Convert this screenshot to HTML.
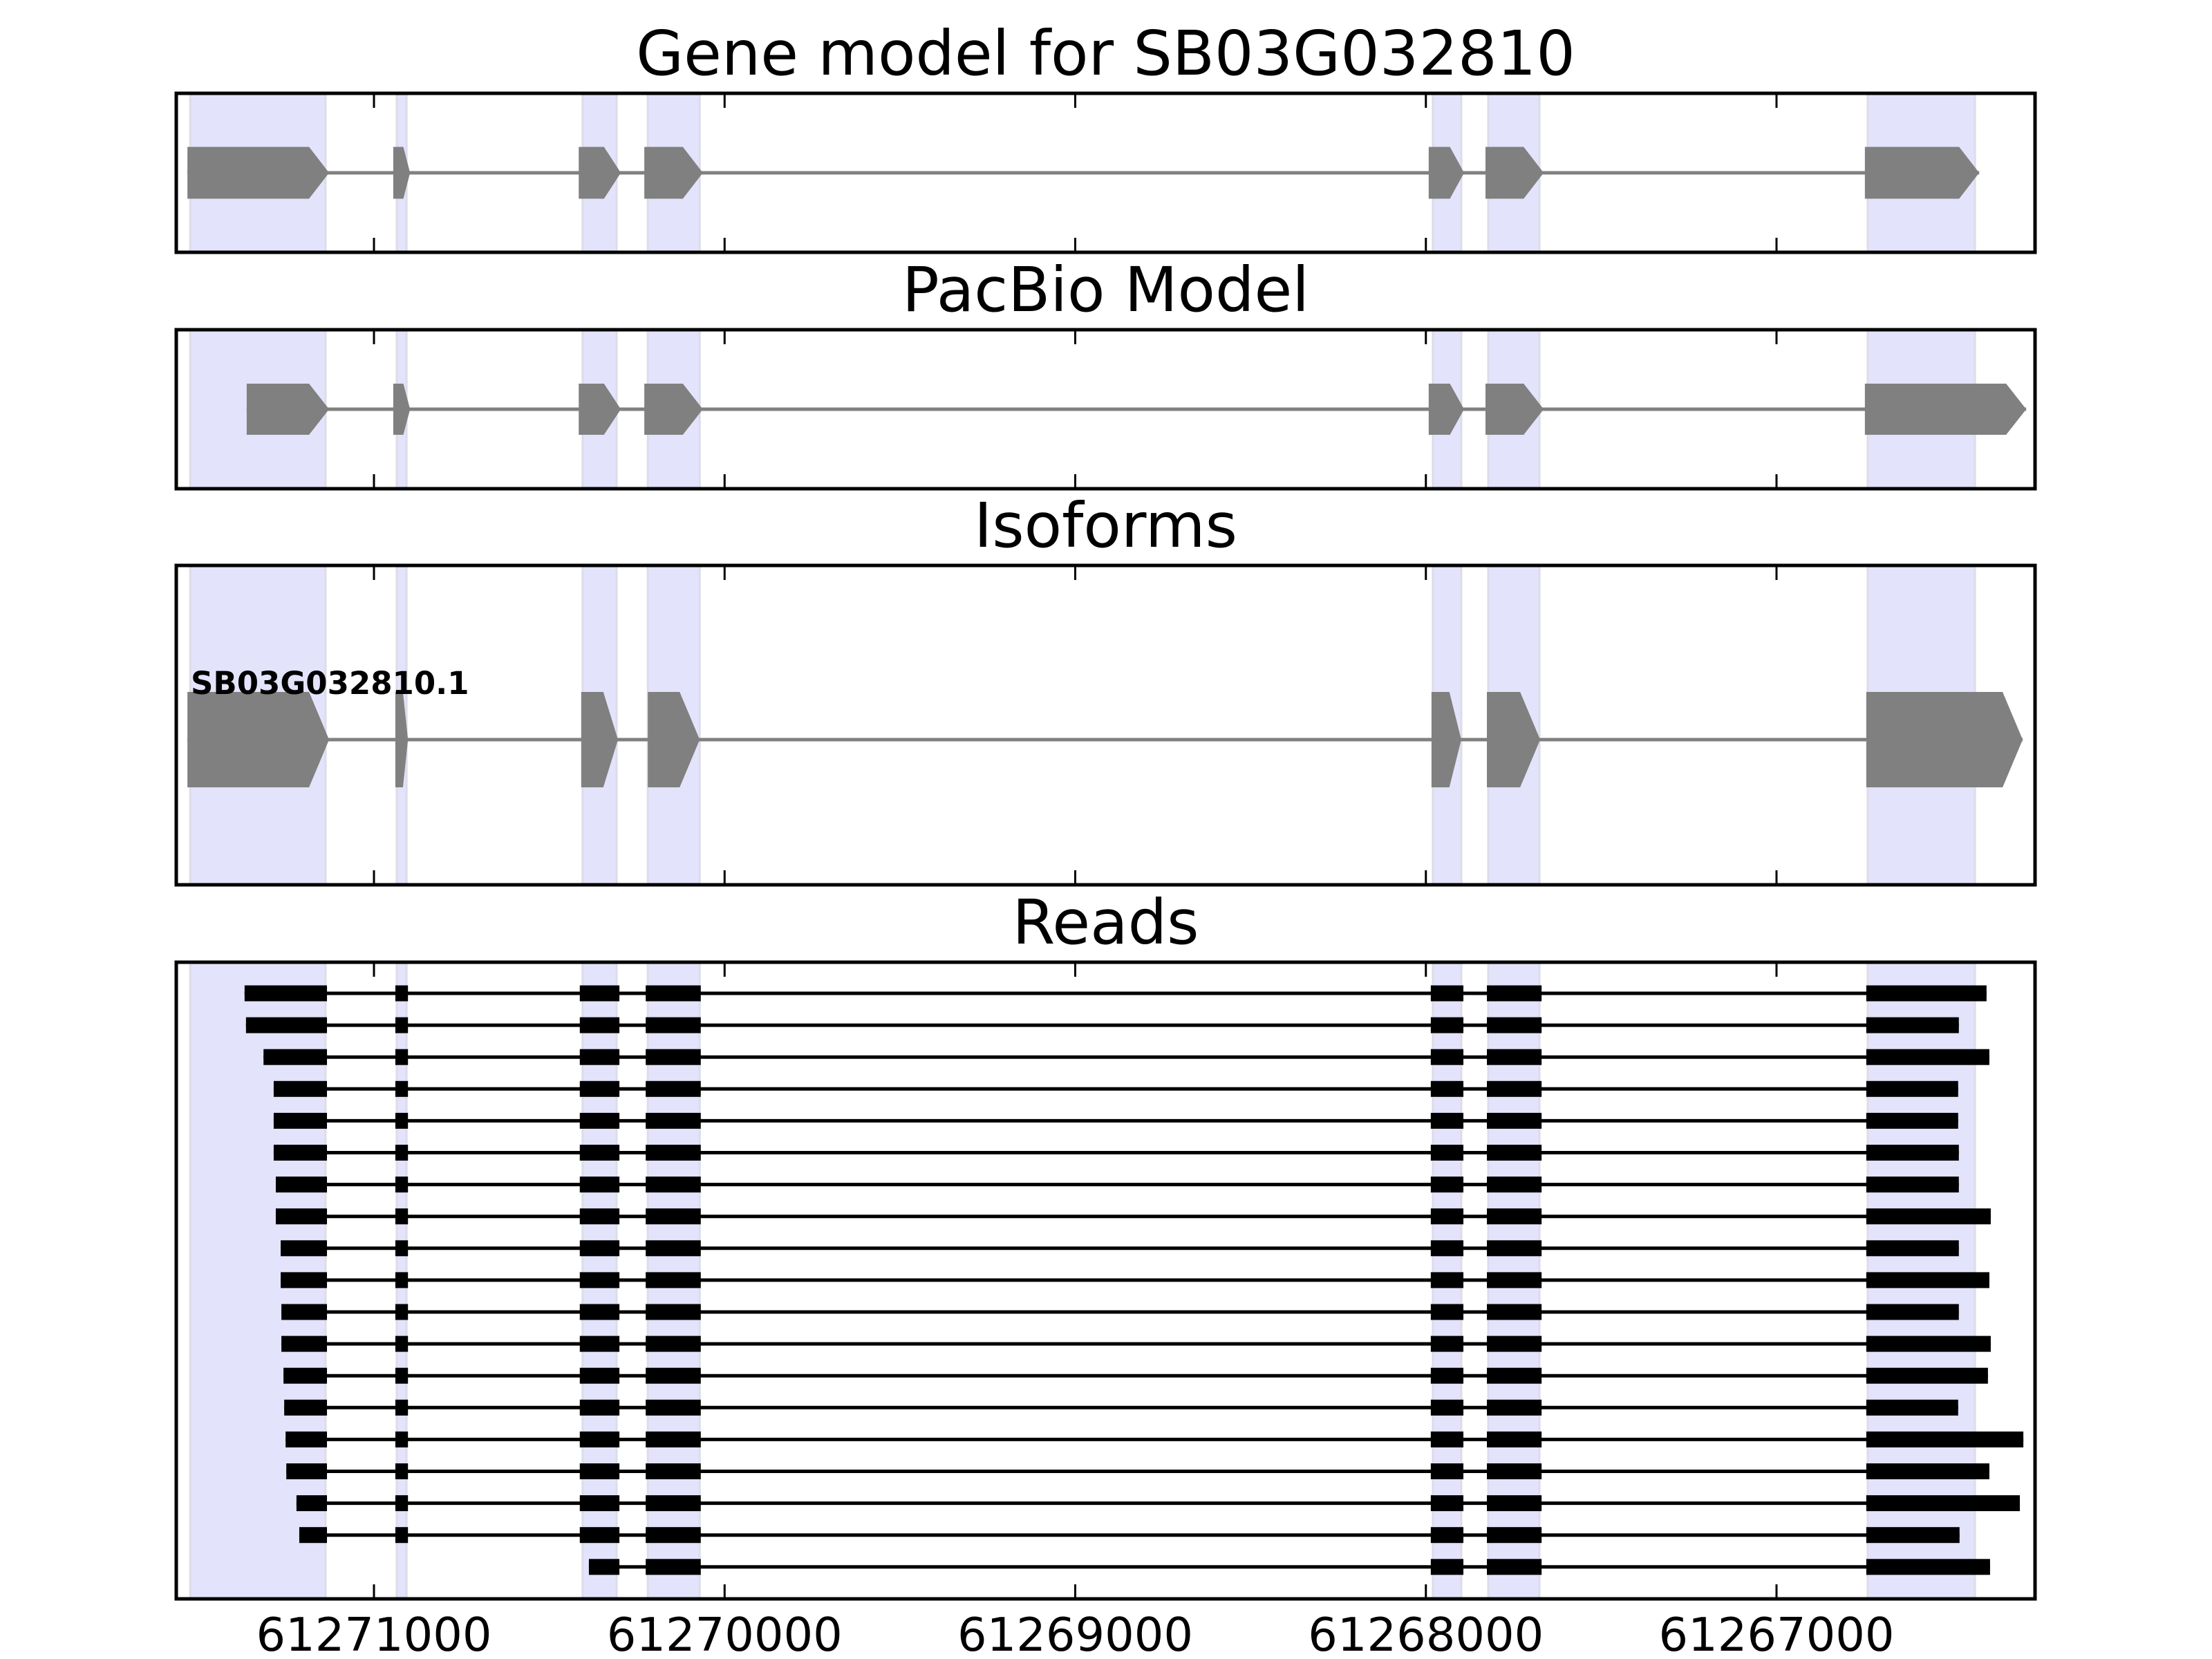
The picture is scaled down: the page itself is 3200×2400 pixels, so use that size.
<!DOCTYPE html>
<html><head><meta charset="utf-8"><style>
html,body{margin:0;padding:0;background:#fff;}
svg{display:block;}
text{font-family:"DejaVu Sans","Liberation Sans",sans-serif;}
</style></head>
<body>
<svg id="chart" width="3200" height="2400" viewBox="0 0 3200 2400" xmlns="http://www.w3.org/2000/svg"></svg>
<script>
// ---- data (genomic coordinates) ----
const tickValues = [61271000, 61270000, 61269000, 61268000, 61267000];
const tickLabels = ["61271000", "61270000", "61269000", "61268000", "61267000"];
const shadeStarts = [61271524, 61270935, 61270405, 61270219, 61267980, 61267822, 61266740];
const shadeEnds   = [61271138, 61270907, 61270308, 61270071, 61267899, 61267676, 61266434];
const geneExonStarts = [61271532, 61270945, 61270416, 61270229, 61267992, 61267830, 61266748];
const geneExonEnds   = [61271128, 61270897, 61270296, 61270062, 61267891, 61267664, 61266422];
const pacbioExonStarts = [61271363, 61270945, 61270416, 61270229, 61267992, 61267830, 61266748];
const pacbioExonEnds   = [61271128, 61270897, 61270296, 61270062, 61267891, 61267664, 61266288];
const isoExonStarts = [61271532, 61270939, 61270409, 61270219, 61267984, 61267826, 61266744];
const isoExonEnds   = [61271128, 61270903, 61270304, 61270071, 61267899, 61267674, 61266298];
const isoformName = "SB03G032810.1";
const readExonStarts = [61271600, 61270939, 61270413, 61270225, 61267986, 61267826, 61266744];
const readExonEnds   = [61271134, 61270903, 61270300, 61270068, 61267893, 61267670, 61266000];
const readStarts = [61271369,61271365,61271315,61271286,61271286,61271286,61271280,61271280,61271266,61271266,61271264,61271264,61271258,61271256,61271252,61271250,61271221,61271213,61270387];
const readEnds   = [61266401,61266480,61266393,61266482,61266482,61266480,61266480,61266389,61266480,61266393,61266480,61266389,61266397,61266482,61266296,61266393,61266306,61266478,61266391];

// ---- layout ----
const NS = "http://www.w3.org/2000/svg";
const svg = document.getElementById('chart');
const X0 = 255, X1 = 2944;
const x = p => 541 + (61271000 - p) * 0.50725;
const panels = [
  {name:'gene-model-panel', title:'Gene model for SB03G032810', top:135, bottom:365},
  {name:'pacbio-model-panel', title:'PacBio Model', top:477, bottom:707},
  {name:'isoforms-panel', title:'Isoforms', top:818, bottom:1280},
  {name:'reads-panel', title:'Reads', top:1392, bottom:2313}
];
function mk(tag, attrs, parent){
  const e = document.createElementNS(NS, tag);
  for (const k in attrs) e.setAttribute(k, attrs[k]);
  (parent||svg).appendChild(e);
  return e;
}
function arrowExon(g, s, e, cy, h, name){
  const l = x(s), r = x(e), w = r - l;
  const head = Math.min(29, w * 0.4);
  const p = mk('polygon', {points:`${l},${cy-h} ${r-head},${cy-h} ${r},${cy} ${r-head},${cy+h} ${l},${cy+h}`, fill:'#808080'}, g);
  
  
}
function transcript(g, starts, ends, cy, h, prefix){
  const ln = mk('line', {x1:x(starts[0]), x2:x(ends[ends.length-1]), y1:cy, y2:cy, stroke:'#808080', 'stroke-width':5}, g);
  
  
  for (let i = 0; i < starts.length; i++) arrowExon(g, starts[i], ends[i], cy, h, prefix + '-exon-' + (i+1));
}

panels.forEach((P, pi) => {
  const g = mk('g', {});
  
  
  // shading
  for (let i = 0; i < shadeStarts.length; i++) {
    const r = mk('rect', {x:x(shadeStarts[i]), y:P.top, width:x(shadeEnds[i]) - x(shadeStarts[i]), height:P.bottom-P.top, fill:'#e3e3fb', stroke:'#dcdcea', 'stroke-width':3}, g);
    
    
  }
  // content
  if (pi === 0) transcript(g, geneExonStarts, geneExonEnds, 250, 37.5, 'gene-model');
  if (pi === 1) transcript(g, pacbioExonStarts, pacbioExonEnds, 592, 37, 'pacbio');
  if (pi === 2) {
    transcript(g, isoExonStarts, isoExonEnds, 1070, 69, 'isoform');
    const t = mk('text', {x:276, y:1004, 'font-size':45, 'font-weight':'bold', fill:'#000'}, g);
    t.textContent = isoformName;
    
    
  }
  if (pi === 3) {
    for (let r = 0; r < readStarts.length; r++) {
      const cy = 1437 + r * 46.1;
      const rs = readStarts[r], re = readEnds[r];
      const rg = mk('g', {}, g);
      
      
      const ln = mk('line', {x1:x(rs), x2:x(re), y1:cy, y2:cy, stroke:'#000', 'stroke-width':5}, rg);
      
      
      for (let i = 0; i < readExonStarts.length; i++) {
        const s = Math.min(readExonStarts[i], rs);
        const e = Math.max(readExonEnds[i], re);
        if (s <= e) continue;
        const b = mk('rect', {x:x(s), y:cy-11.5, width:x(e)-x(s), height:23, fill:'#000'}, rg);
        
        
      }
    }
  }
  // ticks
  tickValues.forEach(v => {
    const tx = x(v);
    const t1 = mk('line', {x1:tx, x2:tx, y1:P.top, y2:P.top+21, stroke:'#000', 'stroke-width':3}, g);
    
    
    const t2 = mk('line', {x1:tx, x2:tx, y1:P.bottom, y2:P.bottom-21, stroke:'#000', 'stroke-width':3}, g);
    
    
  });
  // frame
  const f = mk('rect', {x:X0, y:P.top, width:X1-X0, height:P.bottom-P.top, fill:'none', stroke:'#000', 'stroke-width':5}, g);
  
  
  // title
  const tt = mk('text', {x:(X0+X1)/2, y:P.top-27, 'font-size':89, 'text-anchor':'middle', fill:'#000'}, g);
  tt.textContent = P.title;
  
  
});
// x tick labels
tickValues.forEach((v, i) => {
  const t = mk('text', {x:x(v), y:2388, 'font-size':67, 'text-anchor':'middle', fill:'#000'});
  t.textContent = tickLabels[i];
  
  
});
</script>
</body></html>
